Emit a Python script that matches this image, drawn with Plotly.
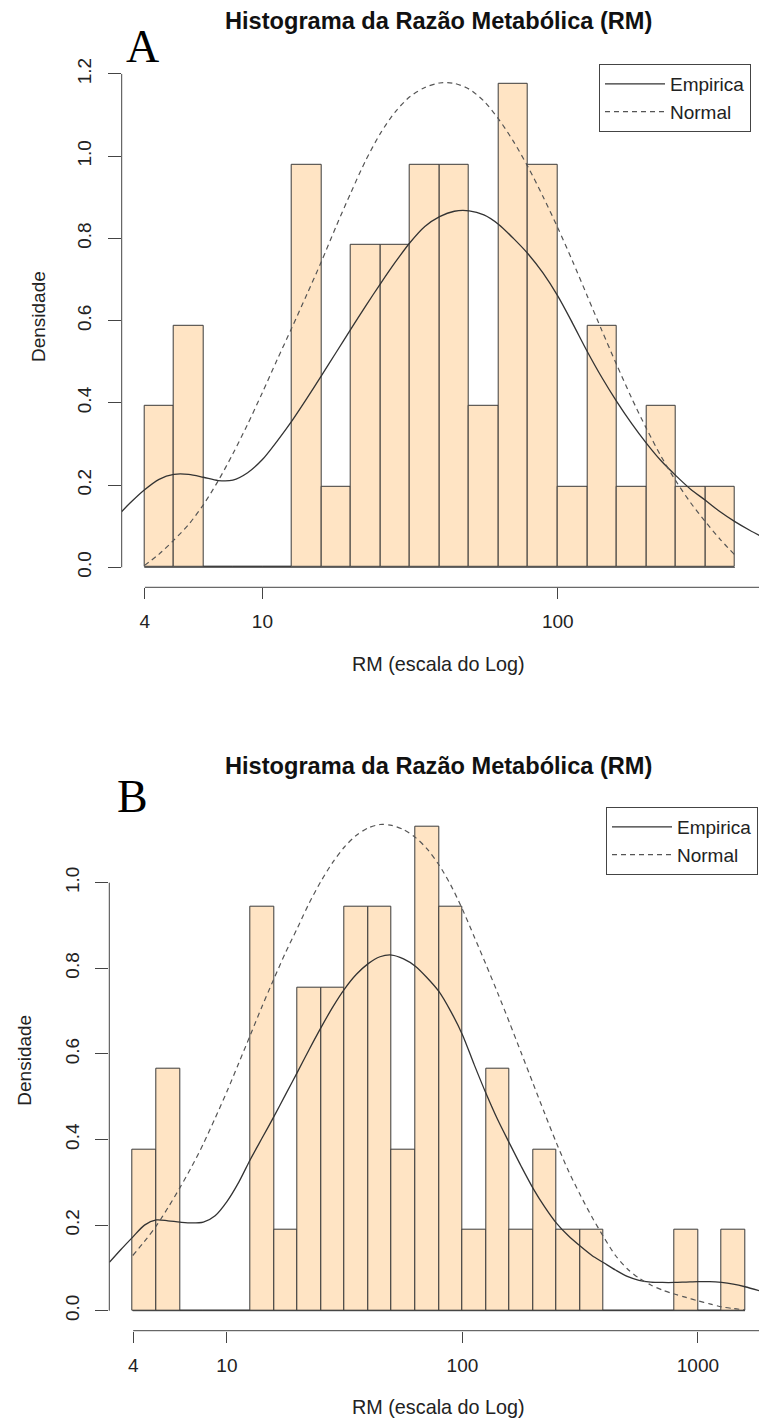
import numpy as np
import plotly.graph_objects as go

# ---------------- data (x = log10 of RM) ----------------
TOP_BREAKS = [0.6, 0.7, 0.8, 0.9, 1.0, 1.1, 1.2, 1.3, 1.4, 1.5, 1.6,
              1.7, 1.8, 1.9, 2.0, 2.1, 2.2, 2.3, 2.4, 2.5, 2.6]
TOP_DENSITY = [0.392, 0.588, 0.0, 0.0, 0.0, 0.980, 0.196, 0.784, 0.784, 0.980,
               0.980, 0.392, 1.176, 0.980, 0.196, 0.588, 0.196, 0.392, 0.196, 0.196]

TOP_EMP_X = [0.523, 0.55, 0.60, 0.65, 0.70, 0.75, 0.80, 0.85, 0.90, 0.95,
             1.00, 1.05, 1.10, 1.15, 1.20, 1.25, 1.30, 1.35, 1.40, 1.45,
             1.50, 1.55, 1.60, 1.65, 1.70, 1.75, 1.80, 1.85, 1.90, 1.95,
             2.00, 2.05, 2.10, 2.15, 2.20, 2.25, 2.30, 2.35, 2.40, 2.45,
             2.50, 2.55, 2.60, 2.65, 2.70]
TOP_EMP_Y = [0.135, 0.155, 0.188, 0.214, 0.226, 0.226, 0.219, 0.211, 0.212, 0.230,
             0.262, 0.307, 0.356, 0.410, 0.466, 0.523, 0.580, 0.636, 0.690, 0.742,
             0.790, 0.829, 0.853, 0.866, 0.867, 0.857, 0.834, 0.800, 0.762, 0.716,
             0.660, 0.594, 0.525, 0.461, 0.403, 0.350, 0.302, 0.259, 0.223, 0.190,
             0.163, 0.135, 0.111, 0.090, 0.071]

TOP_NORM_X = [0.60, 0.65, 0.70, 0.75, 0.80, 0.85, 0.90, 0.95, 1.00, 1.05,
              1.10, 1.15, 1.20, 1.25, 1.30, 1.35, 1.40, 1.45, 1.50, 1.55,
              1.60, 1.65, 1.70, 1.75, 1.80, 1.85, 1.90, 1.95, 2.00, 2.05,
              2.10, 2.15, 2.20, 2.25, 2.30, 2.35, 2.40, 2.45, 2.50, 2.55, 2.60]
TOP_NORM_Y = [0.004, 0.032, 0.066, 0.104, 0.152, 0.210, 0.276, 0.348, 0.425, 0.505,
              0.583, 0.663, 0.744, 0.830, 0.912, 0.990, 1.056, 1.108, 1.145, 1.167,
              1.178, 1.177, 1.163, 1.134, 1.090, 1.036, 0.973, 0.902, 0.826, 0.745,
              0.660, 0.575, 0.492, 0.412, 0.338, 0.270, 0.210, 0.157, 0.111, 0.068, 0.030]

BOT_BREAKS = [0.6, 0.7, 0.8, 0.9, 1.0, 1.1, 1.2, 1.3, 1.4, 1.5, 1.6, 1.7, 1.8, 1.9,
              2.0, 2.1, 2.2, 2.3, 2.4, 2.5, 2.6, 2.7, 2.8, 2.9, 3.0, 3.1, 3.2]
BOT_DENSITY = [0.377, 0.566, 0.0, 0.0, 0.0, 0.943, 0.189, 0.755, 0.755, 0.943,
               0.943, 0.377, 1.132, 0.943, 0.189, 0.566, 0.189, 0.377, 0.189, 0.189,
               0.0, 0.0, 0.0, 0.189, 0.0, 0.189]

BOT_EMP_X = [0.501, 0.55, 0.60, 0.65, 0.70, 0.75, 0.80, 0.85, 0.90, 0.95,
             1.00, 1.05, 1.10, 1.15, 1.20, 1.25, 1.30, 1.35, 1.40, 1.45,
             1.50, 1.55, 1.60, 1.65, 1.70, 1.75, 1.80, 1.85, 1.90, 1.95,
             2.00, 2.05, 2.10, 2.15, 2.20, 2.25, 2.30, 2.35, 2.40, 2.45,
             2.50, 2.55, 2.60, 2.65, 2.70, 2.75, 2.80, 2.85, 2.90, 2.95,
             3.00, 3.05, 3.10, 3.15, 3.20, 3.26]
BOT_EMP_Y = [0.113, 0.143, 0.172, 0.200, 0.212, 0.210, 0.207, 0.205, 0.207, 0.222,
             0.255, 0.300, 0.354, 0.404, 0.454, 0.506, 0.558, 0.611, 0.662, 0.710,
             0.752, 0.786, 0.811, 0.827, 0.831, 0.822, 0.805, 0.778, 0.746, 0.700,
             0.645, 0.575, 0.508, 0.446, 0.391, 0.337, 0.286, 0.242, 0.204, 0.175,
             0.151, 0.129, 0.112, 0.095, 0.080, 0.071, 0.067, 0.066, 0.066, 0.067,
             0.068, 0.068, 0.066, 0.062, 0.056, 0.047]

BOT_NORM_X = [0.60, 0.65, 0.70, 0.75, 0.80, 0.85, 0.90, 0.95, 1.00, 1.05,
              1.10, 1.15, 1.20, 1.25, 1.30, 1.35, 1.40, 1.45, 1.50, 1.55,
              1.60, 1.65, 1.70, 1.75, 1.80, 1.85, 1.90, 1.95, 2.00, 2.05,
              2.10, 2.15, 2.20, 2.25, 2.30, 2.35, 2.40, 2.45, 2.50, 2.55,
              2.60, 2.65, 2.70, 2.75, 2.80, 2.85, 2.90, 2.95, 3.00, 3.05,
              3.10, 3.15, 3.20]
BOT_NORM_Y = [0.129, 0.162, 0.198, 0.241, 0.287, 0.336, 0.390, 0.450, 0.512, 0.578,
              0.645, 0.712, 0.776, 0.838, 0.895, 0.953, 1.004, 1.048, 1.084, 1.111,
              1.128, 1.136, 1.134, 1.124, 1.106, 1.079, 1.042, 0.995, 0.938, 0.874,
              0.809, 0.742, 0.673, 0.602, 0.531, 0.460, 0.391, 0.327, 0.271, 0.219,
              0.172, 0.129, 0.098, 0.076, 0.060, 0.048, 0.039, 0.031, 0.023, 0.016,
              0.009, 0.005, 0.002]

TOP_XTICK_LABELS = ["4", "10", "100"]
BOT_XTICK_LABELS = ["4", "10", "100", "1000"]
TOP_YTICKS = [0.0, 0.2, 0.4, 0.6, 0.8, 1.0, 1.2]
BOT_YTICKS = [0.0, 0.2, 0.4, 0.6, 0.8, 1.0]

TITLE = "Histograma da Razão Metabólica (RM)"
XLAB = "RM (escala do Log)"
YLAB = "Densidade"
LEGEND_NAMES = ["Empirica", "Normal"]

# ---------------- styling / layout ----------------
W, H = 759, 1418
SANS = "Liberation Sans, Arial, Helvetica, sans-serif"
SERIF = "Liberation Serif, Times New Roman, serif"
BISQUE = "#FFE4C4"
EDGE = "#3a3a3a"
AXC = "#444444"
BASE = 19


def px_x(p):
    return p / W


def px_y(p):
    return 1 - p / H


fig = go.Figure()

panels = [
    dict(breaks=TOP_BREAKS, dens=TOP_DENSITY, ex=TOP_EMP_X, ey=TOP_EMP_Y,
         nx=TOP_NORM_X, ny=TOP_NORM_Y, xt=TOP_XTICK_LABELS, yt=TOP_YTICKS,
         xa="x", ya="y", xkey="xaxis", ykey="yaxis", leg="legend",
         left=121.7, bottom=587.3, top=46.8,
         xrange=[0.5235, 2.6816], yrange=[-0.0487, 1.266],
         title_y=21, letter="A", letter_xy=(142, 47),
         ylab_x=38, xlab_y=664, legend_xy=(599, 64)),
    dict(breaks=BOT_BREAKS, dens=BOT_DENSITY, ex=BOT_EMP_X, ey=BOT_EMP_Y,
         nx=BOT_NORM_X, ny=BOT_NORM_Y, xt=BOT_XTICK_LABELS, yt=BOT_YTICKS,
         xa="x2", ya="y2", xkey="xaxis2", ykey="yaxis2", leg="legend2",
         left=109.3, bottom=1330.7, top=790.7,
         xrange=[0.5006, 3.2594], yrange=[-0.0467, 1.215],
         title_y=766, letter="B", letter_xy=(132, 796),
         ylab_x=25, xlab_y=1407, legend_xy=(606, 807)),
]

shapes = []
annotations = []
layout_axes = {}

for P in panels:
    br = P["breaks"]
    centers = [(a + b) / 2 for a, b in zip(br[:-1], br[1:])]
    widths = [b - a for a, b in zip(br[:-1], br[1:])]
    fig.add_trace(go.Bar(
        x=centers, y=P["dens"], width=widths,
        marker=dict(color=BISQUE, line=dict(color=EDGE, width=1)),
        xaxis=P["xa"], yaxis=P["ya"], showlegend=False, hoverinfo="skip"))
    fig.add_trace(go.Scatter(
        x=P["ex"], y=P["ey"], mode="lines", name=LEGEND_NAMES[0],
        line=dict(color="#333333", width=1.3, shape="spline", smoothing=0.8),
        xaxis=P["xa"], yaxis=P["ya"], legend=P["leg"]))
    fig.add_trace(go.Scatter(
        x=P["nx"], y=P["ny"], mode="lines", name=LEGEND_NAMES[1],
        line=dict(color="#555555", width=1.2, dash="5px,4px", shape="spline", smoothing=0.8),
        xaxis=P["xa"], yaxis=P["ya"], legend=P["leg"]))

    xtickvals = [float(np.log10(float(t))) for t in P["xt"]]
    layout_axes[P["xkey"]] = dict(
        domain=[px_x(P["left"]), 1.0], range=P["xrange"], anchor=P["ya"],
        showline=False, showgrid=False, zeroline=False,
        ticks="outside", ticklen=11, tickwidth=1, tickcolor=AXC,
        tickvals=xtickvals, ticktext=P["xt"],
        tickfont=dict(family=SANS, size=BASE, color="#222"),
        ticklabelstandoff=6)
    layout_axes[P["ykey"]] = dict(
        domain=[px_y(P["bottom"]), px_y(P["top"])], range=P["yrange"], anchor=P["xa"],
        showline=False, showgrid=False, zeroline=False,
        ticks="outside", ticklen=13, tickwidth=1, tickcolor=AXC,
        tickvals=P["yt"], ticktext=[f"{v:.1f}" for v in P["yt"]],
        tickangle=-90, tickfont=dict(family=SANS, size=BASE, color="#222"),
        ticklabelstandoff=9)

    # axis lines in R style (x: first tick to plot edge, y: first to last tick)
    shapes.append(dict(type="line", xref=P["xa"], yref=f"{P['ya']} domain",
                       x0=xtickvals[0], x1=P["xrange"][1], y0=0, y1=0,
                       line=dict(color=AXC, width=1)))
    shapes.append(dict(type="line", xref=f"{P['xa']} domain", yref=P["ya"],
                       x0=0, x1=0, y0=P["yt"][0], y1=P["yt"][-1],
                       line=dict(color=AXC, width=1)))
    # histogram baseline (empty bins are drawn as flat rectangles in R)
    shapes.append(dict(type="line", xref=P["xa"], yref=P["ya"],
                       x0=br[0], x1=br[-1], y0=0, y1=0,
                       line=dict(color=EDGE, width=1)))

    annotations += [
        dict(text=f"<b>{TITLE}</b>", x=px_x(438), y=px_y(P["title_y"]),
             xref="paper", yref="paper", showarrow=False, xanchor="center", yanchor="middle",
             font=dict(family=SANS, size=23.6, color="#111")),
        dict(text=P["letter"], x=px_x(P["letter_xy"][0]), y=px_y(P["letter_xy"][1]),
             xref="paper", yref="paper", showarrow=False, xanchor="center", yanchor="middle",
             font=dict(family=SERIF, size=46, color="#000")),
        dict(text=YLAB, x=px_x(P["ylab_x"]), y=px_y((P["top"] + P["bottom"]) / 2),
             xref="paper", yref="paper", showarrow=False, xanchor="center", yanchor="middle",
             textangle=-90, font=dict(family=SANS, size=BASE, color="#222")),
        dict(text=XLAB, x=px_x(438.5), y=px_y(P["xlab_y"]),
             xref="paper", yref="paper", showarrow=False, xanchor="center", yanchor="middle",
             font=dict(family=SANS, size=19.8, color="#222")),
    ]
    layout_axes[P["leg"]] = dict(
        x=px_x(P["legend_xy"][0]), y=px_y(P["legend_xy"][1]),
        xanchor="left", yanchor="top", bgcolor="white",
        bordercolor=AXC, borderwidth=1,
        font=dict(family=SANS, size=BASE, color="#222"),
        tracegroupgap=0, itemwidth=60)

fig.update_layout(
    width=W, height=H, margin=dict(l=0, r=0, t=0, b=0),
    paper_bgcolor="white", plot_bgcolor="white",
    showlegend=True, bargap=0,
    shapes=shapes, annotations=annotations,
    **layout_axes)

fig.write_html("out.html")
